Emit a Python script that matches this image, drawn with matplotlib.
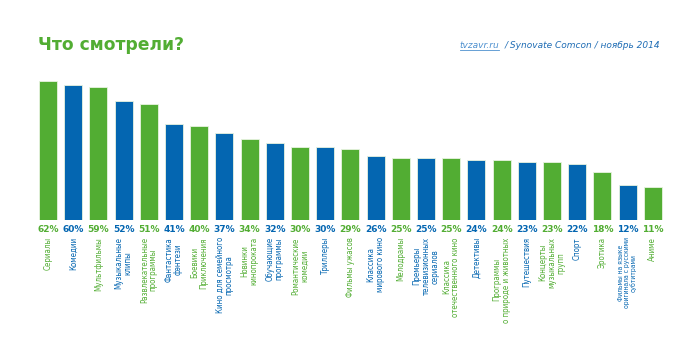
import matplotlib.pyplot as plt
import matplotlib.transforms as mtransforms
from matplotlib import font_manager

# Что смотрели? (tvzavr.ru / Synovate Comcon, ноябрь 2014)
categories = [
    'Сериалы', 'Комедии', 'Мультфильмы', 'Музыкальные\nклипы',
    'Развлекательные\nпрограммы', 'Фантастика\nфэнтези', 'Боевики\nПриключения',
    'Кино для семейного\nпросмотра', 'Новинки\nкинопроката', 'Обучающие\nпрограммы',
    'Романтические\nкомедии', 'Триллеры', 'Фильмы ужасов', 'Классика\nмирового кино',
    'Мелодрамы', 'Премьеры\nтелевизионных\nсериалов', 'Классика\nотечественного кино',
    'Детективы', 'Программы\nо природе и животных', 'Путешествия',
    'Концерты\nмузыкальных\nгрупп', 'Спорт', 'Эротика',
    'Фильмы на языке\nоригинала с русскими\nсубтитрами', 'Аниме',
]
values = [62, 60, 59, 52, 51, 41, 40, 37, 34, 32, 30, 30, 29, 26, 25, 25, 25,
          24, 24, 23, 23, 22, 18, 12, 11]

GREEN = '#52ad33'
BLUE = '#0466b1'
colors = [GREEN if i % 2 == 0 else BLUE for i in range(len(values))]

# condensed face for the category names, if there is one
has_cond = any(f.name == 'DejaVu Sans' and f.stretch == 'condensed'
               for f in font_manager.fontManager.ttflist)
stretch = 'condensed' if has_cond else 'normal'
name_fs = 5.7 if has_cond else 5.2

fig = plt.figure(figsize=(7, 3.52), dpi=100)
ax = fig.add_axes([0.0506, 0.375, 0.9, 0.4136])

base = -5  # bars start a bit below zero, like in the original
x = range(len(values))
ax.bar(x, [v - base for v in values], bottom=base, width=0.72,
       color=colors, edgecolor='#e8f3e0', linewidth=0.6)
ax.set_xlim(-0.5, len(values) - 0.5)
ax.set_ylim(base, 65)
ax.axis('off')

trans = mtransforms.blended_transform_factory(ax.transData, ax.transAxes)
for i, (v, c, name) in enumerate(zip(values, colors, categories)):
    ax.text(i, -0.062, f'{v}%', transform=trans, ha='center', va='center',
            color=c, fontsize=6.5, fontweight='bold')
    fs = name_fs * 0.85 if i == 23 else name_fs
    ax.text(i, -0.118, name, transform=trans, ha='center', va='top',
            rotation=90, color=c, fontsize=fs, fontstretch=stretch,
            multialignment='center', linespacing=1.0)

fig.text(38 / 700, 1 - 45 / 352, 'Что смотрели?', color=GREEN,
         fontsize=12.3, fontweight='bold', va='center', ha='left')

src = fig.text(660 / 700, 1 - 45 / 352, '/ Synovate Comcon / ноябрь 2014',
               color='#1f6db5', fontsize=6.5, style='italic',
               va='center', ha='right')
r = fig.canvas.get_renderer()
left = src.get_window_extent(r).x0 / 700 - 5 / 700
site = fig.text(left, 1 - 45 / 352, 'tvzavr.ru', color='#4d90cf',
                fontsize=6.5, style='italic', va='center', ha='right')
bb = site.get_window_extent(r)
fig.add_artist(plt.Line2D([bb.x0 / 700, bb.x1 / 700],
                          [1 - 50 / 352, 1 - 50 / 352],
                          color='#4d90cf', linewidth=0.6))

fig.savefig('out.png', dpi=100, facecolor='white')
